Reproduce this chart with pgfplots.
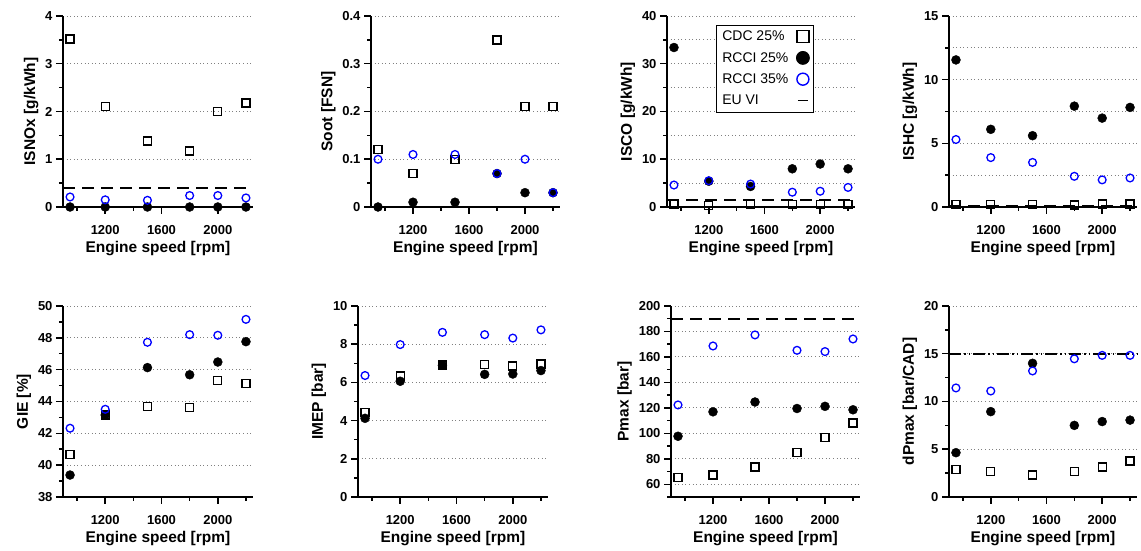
\documentclass[border=0pt]{standalone}
\usepackage{pgfplots}
\pgfplotsset{compat=1.18}
\usepackage{fontspec}
\setmainfont{Liberation Sans}

\pgfplotsset{
  panel/.style={
    scale only axis, width=190pt, height=191pt,
    anchor=south west,
    axis lines=left, axis line style={-, line width=1.8pt},
    xmin=900, xmax=2250,
    xtick={1200,1600,2000}, minor xtick={1000,1400,1800,2200},
    tick align=outside,
    major tick length=7pt, minor tick length=4pt,
    tick style={black, line width=1.5pt},
    ymajorgrids,
    major grid style={gray, line width=0.9pt, dash pattern=on 1pt off 2.6pt},
    minor grid style={gray, line width=0.9pt, dash pattern=on 1pt off 2.6pt},
    tick label style={font=\fontsize{13}{15}\selectfont\bfseries},
    xticklabel style={yshift=-8pt},
    label style={font=\fontsize{15.5}{17}\selectfont\bfseries},
    xlabel={Engine speed [rpm]},
    /pgf/number format/assume math mode=true,
    /pgf/number format/1000 sep={},
    clip=false,
  },
  cdc/.style={only marks, mark=square, mark size=4pt, black, line width=1.3pt, forget plot},
  r25/.style={only marks, mark=*, mark size=4.5pt, black, forget plot},
  r35/.style={only marks, mark=o, mark size=3.9pt, blue, line width=1.3pt, forget plot},
  euvi/.style={black, line width=1.6pt, dash pattern=on 12pt off 7pt, forget plot},
}

\begin{document}
\begin{tikzpicture}
\path[use as bounding box] (0,0) rectangle (1141pt,551pt);

% ---- top row ----
\begin{axis}[panel, at={(63pt,344pt)},
    ymin=0, ymax=4, ytick={0,1,2,3,4}, minor y tick num=1,
    ylabel={ISNOx [g/kWh]}]
\addplot[euvi] coordinates {(900,0.4) (2250,0.4)};
\addplot[cdc] coordinates {(950,3.52) (1200,2.11) (1500,1.38) (1800,1.17) (2000,2.00) (2200,2.18)};
\addplot[r25] coordinates {(950,0) (1200,0) (1500,0) (1800,0) (2000,0) (2200,0)};
\addplot[r35] coordinates {(950,0.21) (1200,0.15) (1500,0.14) (1800,0.24) (2000,0.24) (2200,0.19)};
\end{axis}

\begin{axis}[panel, at={(371pt,344pt)}, width=189pt,
    ymin=0, ymax=0.4, ytick={0,0.1,0.2,0.3,0.4}, yticklabels={0,0.1,0.2,0.3,0.4},
    minor y tick num=1, ylabel={Soot [FSN]}]
\addplot[cdc] coordinates {(950,0.12) (1200,0.07) (1500,0.10) (1800,0.35) (2000,0.21) (2200,0.21)};
\addplot[r25] coordinates {(950,0) (1200,0.01) (1500,0.01) (1800,0.07) (2000,0.03) (2200,0.03)};
\addplot[r35] coordinates {(950,0.10) (1200,0.11) (1500,0.11) (1800,0.07) (2000,0.10) (2200,0.03)};
\end{axis}

\begin{axis}[panel, at={(667pt,344pt)}, width=188pt,
    ymin=0, ymax=40, ytick={0,10,20,30,40}, minor y tick num=1, yminorgrids,
    ylabel={ISCO [g/kWh]},
    legend plot pos=right, legend cell align=left,
    legend style={at={(0.26,0.955)}, anchor=north west, draw=black, line width=0.8pt,
      font=\fontsize{14}{16}\selectfont, row sep=6pt, column sep=6pt, inner sep=4pt}]
\addlegendimage{only marks, mark=square, mark size=6pt, black, line width=1.4pt}
\addlegendentry{CDC 25\%}
\addlegendimage{only marks, mark=*, mark size=6.5pt, black}
\addlegendentry{RCCI 25\%}
\addlegendimage{only marks, mark=o, mark size=6pt, blue, line width=1.4pt}
\addlegendentry{RCCI 35\%}
\addlegendimage{legend image code/.code={\draw[black, line width=1.6pt] (3.5pt,0) -- (13.5pt,0);}}
\addlegendentry{EU VI}
\addplot[euvi] coordinates {(900,1.5) (2250,1.5)};
\addplot[cdc] coordinates {(950,0.55) (1200,0.35) (1500,0.5) (1800,0.5) (2000,0.5) (2200,0.5)};
\addplot[r25] coordinates {(950,33.4) (1200,5.4) (1500,4.3) (1800,8.0) (2000,9.0) (2200,8.0)};
\addplot[r35] coordinates {(950,4.6) (1200,5.5) (1500,4.8) (1800,3.1) (2000,3.3) (2200,4.1)};
\end{axis}

\begin{axis}[panel, at={(949pt,344pt)}, width=188pt,
    ymin=0, ymax=15, ytick={0,5,10,15}, minor y tick num=1, yminorgrids,
    ylabel={ISHC [g/kWh]}]
\addplot[euvi] coordinates {(900,0.13) (2250,0.13)};
\addplot[cdc] coordinates {(950,0.22) (1200,0.17) (1500,0.17) (1800,0.15) (2000,0.23) (2200,0.23)};
\addplot[r25] coordinates {(950,11.55) (1200,6.1) (1500,5.6) (1800,7.92) (2000,6.98) (2200,7.82)};
\addplot[r35] coordinates {(950,5.3) (1200,3.88) (1500,3.5) (1800,2.41) (2000,2.13) (2200,2.28)};
\end{axis}

% ---- bottom row ----
\begin{axis}[panel, at={(63pt,54pt)},
    ymin=38, ymax=50, ytick={38,40,42,44,46,48,50}, minor y tick num=1,
    ylabel={GIE [\%]}]
\addplot[cdc] coordinates {(950,40.68) (1200,43.15) (1500,43.68) (1800,43.63) (2000,45.31) (2200,45.12)};
\addplot[r25] coordinates {(950,39.38) (1200,43.15) (1500,46.13) (1800,45.68) (2000,46.48) (2200,47.76)};
\addplot[r35] coordinates {(950,42.32) (1200,43.51) (1500,47.72) (1800,48.2) (2000,48.16) (2200,49.16)};
\end{axis}

\begin{axis}[panel, at={(358pt,54pt)},
    ymin=0, ymax=10, ytick={0,2,4,6,8,10}, minor y tick num=1,
    ylabel={IMEP [bar]}]
\addplot[cdc] coordinates {(950,4.42) (1200,6.34) (1500,6.91) (1800,6.95) (2000,6.86) (2200,6.96)};
\addplot[r25] coordinates {(950,4.12) (1200,6.06) (1500,6.9) (1800,6.42) (2000,6.44) (2200,6.62)};
\addplot[r35] coordinates {(950,6.36) (1200,7.98) (1500,8.62) (1800,8.5) (2000,8.32) (2200,8.75)};
\end{axis}

\begin{axis}[panel, at={(671pt,54pt)}, width=189pt,
    ymin=50, ymax=200, ytick={60,80,100,120,140,160,180,200},
    minor ytick={50,70,90,110,130,150,170,190},
    ylabel={Pmax [bar]}]
\addplot[euvi] coordinates {(900,190) (2250,190)};
\addplot[cdc] coordinates {(950,65.5) (1200,67.3) (1500,73.6) (1800,85.2) (2000,96.7) (2200,108.2)};
\addplot[r25] coordinates {(950,97.7) (1200,116.9) (1500,124.6) (1800,119.5) (2000,121.2) (2200,118.5)};
\addplot[r35] coordinates {(950,122.3) (1200,168.6) (1500,177.3) (1800,165.2) (2000,164.2) (2200,174.1)};
\end{axis}

\begin{axis}[panel, at={(949pt,54pt)}, width=188pt,
    ymin=0, ymax=20, ytick={0,5,10,15,20}, minor y tick num=1,
    ylabel={dPmax [bar/CAD]}]
\addplot[euvi, dash pattern=on 12pt off 3pt on 1.5pt off 3pt on 1.5pt off 3pt] coordinates {(900,15) (2250,15)};
\addplot[cdc] coordinates {(950,2.9) (1200,2.69) (1500,2.3) (1800,2.65) (2000,3.14) (2200,3.77)};
\addplot[r25] coordinates {(950,4.64) (1200,8.94) (1500,14.0) (1800,7.5) (2000,7.9) (2200,8.05)};
\addplot[r35] coordinates {(950,11.42) (1200,11.1) (1500,13.2) (1800,14.47) (2000,14.83) (2200,14.83)};
\end{axis}
\end{tikzpicture}
\end{document}
